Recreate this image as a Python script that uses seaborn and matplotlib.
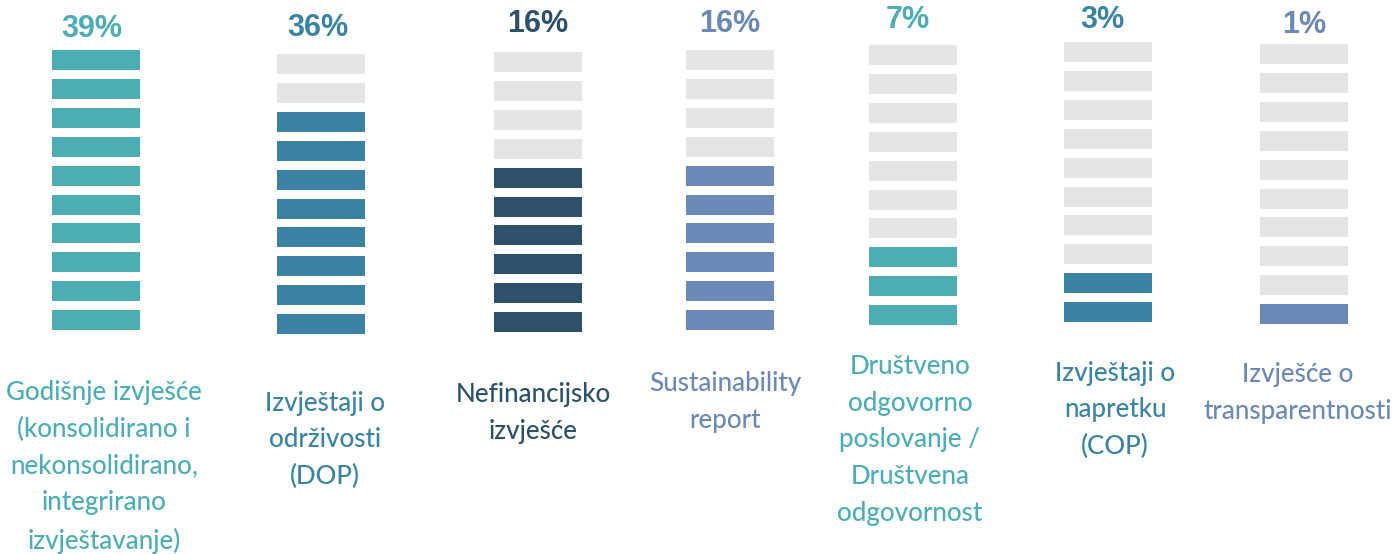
import matplotlib
matplotlib.use("Agg")
import matplotlib.pyplot as plt
import seaborn as sns
import pandas as pd

# ---- data ----
categories = [
    "Godišnje izvješće\n(konsolidirano i\nnekonsolidirano,\nintegrirano\nizvještavanje)",
    "Izvještaji o\nodrživosti\n(DOP)",
    "Nefinancijsko\nizvješće",
    "Sustainability\nreport",
    "Društveno\nodgovorno\nposlovanje /\nDruštvena\nodgovornost",
    "Izvještaji o\nnapretku\n(COP)",
    "Izvješće o\ntransparentnosti",
]
percent_labels = ["39%", "36%", "16%", "16%", "7%", "3%", "1%"]
filled_cells = [10, 8, 6, 6, 3, 2, 1]
total_cells = 10

# ---- style / layout ----
colors = ["#4DADB5", "#3A83A3", "#2C5169", "#6B88B6", "#4DADB5", "#3A83A3", "#6B88B6"]
empty_color = "#E5E5E5"
col_x = [96, 321, 538, 730, 913, 1108, 1304]
col_top = [50, 54, 52, 50, 45, 42, 44]
pct_x = [92, 318, 538, 730, 908, 1102, 1304]
pct_y = [29, 28, 24, 24, 20, 20, 25]
lab_x = [104, 325, 533, 725, 910, 1115, 1298]
lab_y = [467, 440, 413, 402, 440, 410, 393]
bar_w = 88
bar_h = 20
pitch = 28.9

sns.set_theme(style="white")
plt.rcParams["font.family"] = ["Lato", "DejaVu Sans"]

rows = []
for i, (cat, n) in enumerate(zip(categories, filled_cells)):
    for r in range(total_cells):
        rows.append({"col": i, "row": r, "filled": r < n})
cells = pd.DataFrame(rows)

fig = plt.figure(figsize=(13.98, 5.54), dpi=100)
ax = fig.add_axes([0, 0, 1, 1])
ax.set_xlim(0, 1398)
ax.set_ylim(554, 0)
ax.axis("off")

for _, c in cells.iterrows():
    i = int(c["col"])
    r = int(c["row"])
    top = col_top[i] + (total_cells - 1 - r) * pitch
    ax.bar(col_x[i], bar_h, width=bar_w, bottom=top,
           color=colors[i] if c["filled"] else empty_color, linewidth=0)

for i in range(len(categories)):
    ax.text(pct_x[i], pct_y[i], percent_labels[i], ha="center", va="center",
            fontsize=22, fontweight="bold", color=colors[i],
            family=["Liberation Sans", "DejaVu Sans"])
    ax.text(lab_x[i], lab_y[i], categories[i], ha="center", va="center",
            fontsize=18.7, fontweight="medium", color=colors[i], linespacing=1.58)

fig.savefig("out.png", dpi=100)
